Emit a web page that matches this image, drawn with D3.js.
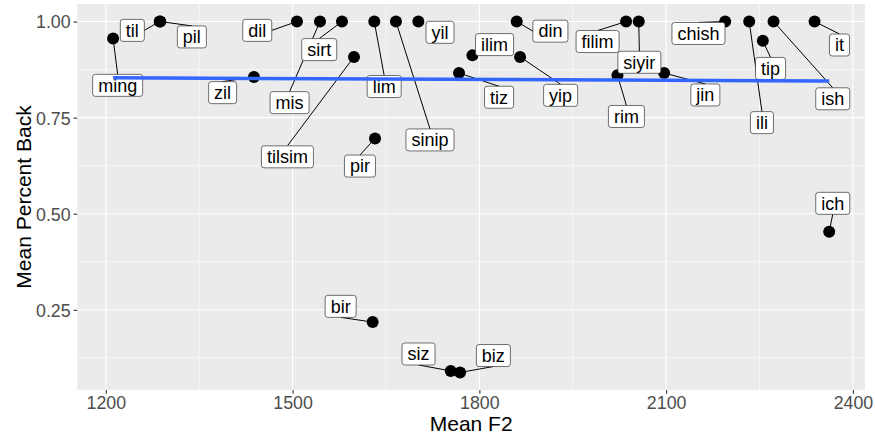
<!DOCTYPE html>
<html><head><meta charset="utf-8">
<script src="https://cdn.jsdelivr.net/npm/d3@7"></script>
<style>
body{margin:0;background:#fff}
text{font-family:"Liberation Sans",Arial,Helvetica,sans-serif}
</style>
</head><body>
<svg id="chart" width="875" height="437"></svg>
<script>
// ---- data ----
const words    = ["ming","til","pil","zil","dil","mis","sirt","tilsim","lim","pir","bir","sinip","yil","siz","biz","tiz","ilim","din","yip","rim","filim","siyir","jin","chish","ili","tip","ish","it","ich"];
const meanF2   = [1211.7,1286.5,1287.5,1437.9,1507,1544,1579.3,1598.6,1631.2,1632.4,1628.6,1666,1702,1754,1769,1767.3,1788.8,1860,1865.4,2021.8,2035.7,2056,2096.8,2194.8,2233.4,2255.3,2272.5,2338.4,2361.9];
const meanBack = [0.956,1.0,1.0,0.856,1.0,1.0,1.0,0.908,1.0,0.696,0.218,1.0,1.0,0.091,0.087,0.866,0.912,1.0,0.908,0.860,1.0,1.0,0.866,1.0,1.0,0.950,1.0,1.0,0.453];
// repelled label anchors (data units), as placed in the original
const labelF2   = [1219.0,1242.6,1338.2,1387.6,1443.2,1495.2,1542.8,1491.7,1647.1,1608.2,1577.2,1720.7,1736.8,1702.3,1822.5,1831.6,1824.4,1914.1,1930.5,2036.2,1989.9,2057.0,2163.0,2151.9,2253.9,2267.7,2367.6,2378.4,2367.6];
const labelBack = [0.834,0.977,0.960,0.815,0.977,0.789,0.927,0.648,0.831,0.624,0.259,0.692,0.972,0.135,0.131,0.803,0.940,0.975,0.808,0.753,0.948,0.894,0.809,0.969,0.737,0.878,0.799,0.939,0.527];
const xTicks = [1200,1500,1800,2100,2400];
const xMinor = [1350,1650,1950,2250];
const yTicks = [0.25,0.50,0.75,1.00];
const yTickLabels = ["0.25","0.50","0.75","1.00"];
const yMinor = [0.125,0.375,0.625,0.875];
const xTitle = "Mean F2";
const yTitle = "Mean Percent Back";

// ---- layout ----
const svg = d3.select("#chart");
const P = {left:77.3, right:865, top:4, bottom:390};
const xExt = d3.extent(meanF2), yExt = d3.extent(meanBack);
const xPad = (xExt[1]-xExt[0])*0.05, yPad = (yExt[1]-yExt[0])*0.05;
const x = d3.scaleLinear().domain([xExt[0]-xPad, xExt[1]+xPad]).range([P.left, P.right]);
const y = d3.scaleLinear().domain([yExt[0]-yPad, yExt[1]+yPad]).range([P.bottom, P.top]);

svg.append("rect").attr("x",P.left).attr("y",P.top).attr("width",P.right-P.left).attr("height",P.bottom-P.top).attr("fill","#EBEBEB");
const grid = svg.append("g");
grid.selectAll(".xm").data(xMinor).join("line").attr("x1",d=>x(d)).attr("x2",d=>x(d)).attr("y1",P.top).attr("y2",P.bottom).attr("stroke","#fff").attr("stroke-width",0.55);
grid.selectAll(".ym").data(yMinor).join("line").attr("y1",d=>y(d)).attr("y2",d=>y(d)).attr("x1",P.left).attr("x2",P.right).attr("stroke","#fff").attr("stroke-width",0.55);
grid.selectAll(".xM").data(xTicks).join("line").attr("x1",d=>x(d)).attr("x2",d=>x(d)).attr("y1",P.top).attr("y2",P.bottom).attr("stroke","#fff").attr("stroke-width",1.1);
grid.selectAll(".yM").data(yTicks).join("line").attr("y1",d=>y(d)).attr("y2",d=>y(d)).attr("x1",P.left).attr("x2",P.right).attr("stroke","#fff").attr("stroke-width",1.1);

// axes
const xAxis = svg.append("g").attr("transform",`translate(0,${P.bottom})`)
  .call(d3.axisBottom(x).tickValues(xTicks).tickSize(3.7).tickPadding(3).tickFormat(d3.format("d")));
const yAxis = svg.append("g").attr("transform",`translate(${P.left},0)`)
  .call(d3.axisLeft(y).tickValues(yTicks).tickSize(3.7).tickPadding(3).tickFormat((d,i)=>yTickLabels[i]));
[xAxis,yAxis].forEach(a=>{
  a.select(".domain").remove();
  a.selectAll(".tick line").attr("stroke","#333333").attr("stroke-width",1.1);
  a.selectAll(".tick text").attr("fill","#4D4D4D").style("font-size","17.8px").style("font-family","Liberation Sans, Arial, sans-serif");
});
xAxis.selectAll(".tick text").attr("dy",null).attr("y",18.5);
yAxis.selectAll(".tick text").attr("dy","0.36em");

svg.append("text").attr("x",(P.left+P.right)/2).attr("y",431).attr("text-anchor","middle").style("font-size","21px").attr("fill","#000").text(xTitle);
svg.append("text").attr("transform",`translate(31,${(P.top+P.bottom)/2}) rotate(-90)`).attr("text-anchor","middle").style("font-size","21px").attr("fill","#000").text(yTitle);

// points
const pts = words.map((w,i)=>({w, px:x(meanF2[i]), py:y(meanBack[i]), lx:x(labelF2[i]), ly:y(labelBack[i])}));
svg.append("g").selectAll("circle").data(pts).join("circle")
  .attr("cx",d=>d.px).attr("cy",d=>d.py).attr("r",6).attr("fill","#000");

// labels (measure first)
const lblG = svg.append("g");
const segG = lblG.append("g");
const boxG = lblG.append("g");
const H = 22, padX = 5.5;
pts.forEach(d=>{
  const g = boxG.append("g");
  const rect = g.append("rect");
  const t = g.append("text").attr("x",d.lx).attr("y",d.ly+6.3).attr("text-anchor","middle")
    .style("font-size","18px").attr("fill","#000").text(d.w);
  const w = t.node().getComputedTextLength() + 2*padX;
  d.x1 = d.lx - w/2; d.x2 = d.lx + w/2; d.y1 = d.ly - H/2; d.y2 = d.ly + H/2;
  rect.attr("x",d.x1).attr("y",d.y1).attr("width",w).attr("height",H).attr("rx",2.6)
    .attr("fill","#fff").attr("stroke","#333").attr("stroke-width",0.7);
  // connection point
  let ex, ey;
  if (d.py < d.y1) { ex = d.lx; ey = d.y1; }
  else if (d.py > d.y2) { ex = d.lx; ey = d.y2; }
  else if (d.px < d.x1) { ex = d.x1; ey = d.ly; }
  else if (d.px > d.x2) { ex = d.x2; ey = d.ly; }
  else return;
  const len = Math.hypot(ex-d.px, ey-d.py);
  if (len - 6 < 8) return;
  segG.append("line").attr("x1",d.px).attr("y1",d.py).attr("x2",ex).attr("y2",ey)
    .attr("stroke","#000").attr("stroke-width",1);
});

// linear fit (geom_smooth method = lm)
const mx = d3.mean(meanF2), my = d3.mean(meanBack);
let sxy=0, sxx=0;
meanF2.forEach((v,i)=>{ sxy += (v-mx)*(meanBack[i]-my); sxx += (v-mx)*(v-mx); });
const slope = sxy/sxx, icpt = my - slope*mx;
const fitX = xExt;
svg.append("path").datum(fitX.map(v=>[v, icpt+slope*v]))
  .attr("d", d3.line().x(d=>x(d[0])).y(d=>y(d[1])))
  .attr("fill","none").attr("stroke","#3366FF").attr("stroke-width",3.5);
</script>
</body></html>
